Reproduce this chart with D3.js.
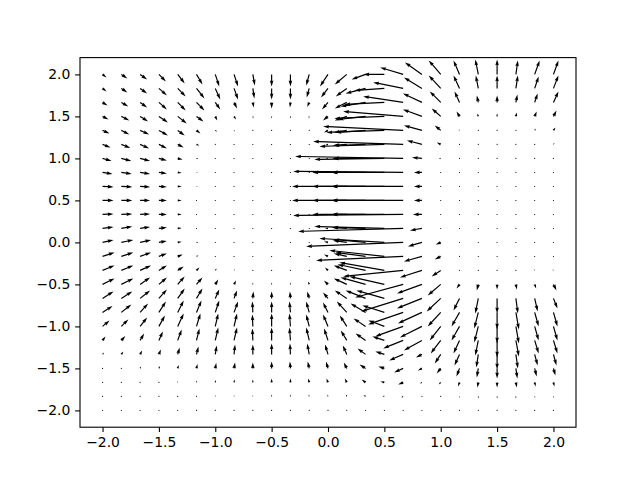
<!DOCTYPE html>
<html><head><meta charset="utf-8">
<script src="https://cdn.jsdelivr.net/npm/d3@7"></script>
<style>body{margin:0;background:#fff} svg{font-family:"DejaVu Sans",sans-serif}</style>
</head><body><svg id="c" width="640" height="480"></svg>
<script>
const xCoords = [-2,-1.8333,-1.6667,-1.5,-1.3333,-1.1667,-1,-0.8333,-0.6667,-0.5,-0.3333,-0.1667,0,0.1667,0.3333,0.5,0.6667,0.8333,1,1.1667,1.3333,1.5,1.6667,1.8333,2];
// rows from top (y = 2) to bottom (y = -2)
const yCoords = [2,1.8333,1.6667,1.5,1.3333,1.1667,1,0.8333,0.6667,0.5,0.3333,0.1667,0,-0.1667,-0.3333,-0.5,-0.6667,-0.8333,-1,-1.1667,-1.3333,-1.5,-1.6667,-1.8333,-2];
const xTicks = [-2,-1.5,-1,-0.5,0,0.5,1,1.5,2];
const yTicks = [-2,-1.5,-1,-0.5,0,0.5,1,1.5,2];
const uRows = [
[0.4,0.6,0.7,0.7,0.7,0.6,0.4,0.4,0.2,0,0,-0.3,-0.8,-1.2,-1.4,-2.1,-2.3,-1.7,-1.2,-0.6,-0.3,0,0.2,0.5,0.5],
[0.4,0.6,0.7,0.8,0.8,0.8,0.5,0.4,0.15,0,0,-0.25,-0.7,-1.1,-2.0,-3.0,-3.0,-1.8,-1.2,-0.6,-0.25,0,0.2,0.4,0.5],
[0.5,0.7,0.7,0.8,0.8,0.8,0.5,0.3,0.1,0,-0.05,-0.2,-0.6,-1.2,-2.5,-4.0,-4.0,-1.9,-1.1,-0.5,-0.15,0,0.15,0.3,0.5],
[0.6,0.8,0.8,0.9,0.9,0.7,0.2,0.2,0.05,0,0,-0.05,-0.5,-1.2,-2.8,-5.0,-6.0,-1.9,-0.9,-0.3,-0.1,0,0.1,0.2,0.3],
[0.7,0.8,0.9,0.9,0.7,0.4,0.2,0.1,0,0,0,0,-0.4,-1.3,-3.0,-5.8,-8.0,-1.8,-0.6,-0.1,0,0,0.05,0.1,0.2],
[0.8,0.9,0.9,0.8,0.6,0.3,0.1,0.05,0.02,0.02,0.02,0.02,-0.3,-1.4,-3.2,-6.5,-9.0,-1.5,-0.4,0,0,0,0,0.05,0.1],
[0.9,1.0,1.0,0.8,0.5,0.2,0.1,0.05,0.02,0.02,0.02,0.02,-0.2,-1.4,-3.3,-7.0,-10.8,-1.0,-0.2,0,0,0,0,0,0],
[1.0,1.05,1.0,0.8,0.4,0.15,0.05,0.03,0.02,0.02,0.02,0.02,-0.2,-1.5,-3.4,-7.2,-11.0,-0.8,-0.1,0,0,0,0,0,0],
[1.1,1.1,1.0,0.8,0.4,0.15,0.05,0.03,0.02,0.02,0.02,0.02,-0.2,-1.5,-3.4,-7.2,-11.1,-0.8,-0.05,0,0,0,0,0,0],
[1.1,1.1,1.0,0.8,0.4,0.1,0.05,0.03,0.02,0.02,0.02,0.02,-0.2,-1.5,-3.4,-7.2,-11.1,-0.8,-0.05,0,0,0,0,0,0],
[1.1,1.1,1.0,0.8,0.4,0.1,0.05,0.03,0.02,0.02,0.02,0.02,-0.2,-1.5,-3.4,-7.2,-11.0,-0.9,-0.05,0,0,0,0,0,0],
[1.1,1.1,1.0,0.8,0.4,0.1,0.05,0.03,0.02,0.02,0.02,0.02,-0.3,-1.5,-3.3,-7.0,-10.5,-1.2,-0.1,0,0,0,0,0,0],
[1.1,1.2,1.1,0.8,0.4,0.2,0.05,0.03,0.02,0.02,0.02,0.02,-0.4,-1.4,-3.2,-6.5,-9.7,-1.4,-0.5,0,0,0,0,0,0],
[1.2,1.2,1.1,0.8,0.5,0.2,0.05,0.03,0.02,0.02,0.02,0.02,-0.4,-1.3,-3.0,-5.5,-8.7,-1.8,-0.6,0,0,0,0,0,0],
[1.2,1.2,1.1,0.8,0.6,0.3,0.15,0.05,0,0,0,0,-0.3,-1.3,-2.8,-4.5,-6.0,-2.2,-0.9,0.05,0,0,0,-0.1,-0.1],
[1.2,1.2,1.0,0.8,0.7,0.6,0.3,0.2,0,0,0,-0.1,-0.4,-1.3,-2.5,-3.5,-4.8,-2.5,-1.3,-0.3,-0.15,0,0.1,0.15,0.3],
[1.1,1.1,1.0,0.8,0.7,0.6,0.4,0.3,0.05,0,-0.05,-0.2,-0.5,-1.2,-2.0,-2.8,-4.2,-2.5,-1.4,-0.6,-0.3,0,0.2,0.3,0.4],
[1.0,1.0,0.8,0.7,0.6,0.5,0.4,0.4,-0.05,0,-0.1,-0.3,-0.5,-1.0,-1.5,-2.2,-3.5,-2.4,-1.3,-0.8,-0.4,0,0.3,0.4,0.4],
[0.7,0.7,0.7,0.6,0.6,0.4,0.3,0.3,-0.05,0,-0.1,-0.3,-0.5,-0.7,-1.2,-1.6,-2.8,-2.2,-1.1,-0.8,-0.4,0,0.3,0.4,0.4],
[0.3,0.4,0.4,0.4,0.4,0.3,0.3,0.3,-0.05,0,-0.1,-0.3,-0.4,-0.6,-1.0,-1.2,-2.0,-1.8,-1.0,-0.6,-0.3,0,0.3,0.4,0.4],
[0.15,0.2,0.2,0.2,0.2,0.2,0.15,0.1,0,0,-0.05,-0.2,-0.3,-0.4,-0.8,-0.9,-1.4,-0.6,-0.6,-0.5,-0.2,0,0.2,0.3,0.3],
[0.05,0.05,0.1,0.1,0.1,0.1,0.1,0.1,0,0,-0.05,-0.15,-0.2,-0.3,-0.6,-0.6,-0.9,-0.4,-0.4,-0.3,-0.15,0,0.15,0.2,0.2],
[0,0,0,0,0,0.05,0.05,0.05,0,0,0,-0.1,-0.15,-0.2,-0.4,-0.4,-0.5,-0.2,-0.2,-0.15,-0.1,0,0.1,0.1,0.1],
[0,0,0,0,0,0,0,0,0,0,0,-0.05,-0.05,-0.1,-0.2,-0.2,-0.2,-0.1,-0.1,0,0,0,0,0.05,0.05],
[0,0,0,0,0,0,0,0,0,0,0,0,0,0,0,0,0,0,0,0,0,0,0,0,0]
];
const vRows = [
[-0.3,-0.4,-0.5,-0.7,-0.9,-1.0,-1.2,-1.2,-1.1,-1.2,-1.2,-1.1,-1.2,-1.0,-0.5,0,0.7,1.2,1.4,1.4,1.5,1.5,1.4,1.4,1.4],
[-0.3,-0.4,-0.5,-0.7,-0.8,-1.0,-1.1,-1.1,-1.0,-1.1,-1.1,-0.9,-0.9,-0.8,-0.5,-0.2,0.6,1.1,1.3,1.3,1.3,1.3,1.3,1.2,1.3],
[-0.3,-0.4,-0.5,-0.7,-0.8,-0.8,-0.7,-0.6,-0.5,-0.6,-0.5,-0.45,-0.7,-0.6,-0.4,-0.2,0.6,0.9,1.1,1.1,0.7,0.7,0.8,0.9,1.1],
[-0.3,-0.4,-0.5,-0.6,-0.7,-0.5,-0.4,-0.3,-0.2,-0.2,-0.2,-0.2,-0.4,-0.4,-0.3,-0.2,0.5,0.7,0.8,0.5,0.3,0.3,0.4,0.5,0.6],
[-0.3,-0.4,-0.4,-0.5,-0.5,-0.3,-0.1,-0.1,-0.05,-0.03,-0.03,-0.03,-0.2,-0.2,-0.2,-0.2,0.4,0.5,0.5,0.1,0.1,0.1,0.1,0.2,0.3],
[-0.3,-0.35,-0.4,-0.4,-0.3,-0.1,-0.05,0,0,0,0,0,-0.1,-0.1,-0.1,-0.2,0.3,0.4,0.2,0.03,0.03,0.03,0.03,0.1,0.15],
[-0.25,-0.25,-0.25,-0.2,-0.1,-0.05,0,0,0,0,0,0,0,0,0,-0.1,0.2,0.1,0,0.02,0.02,0.02,0.02,0.02,0.02],
[-0.15,-0.15,-0.15,-0.1,-0.05,0,0,0,0,0,0,0,0,0,0,0,0.1,0,0,0,0,0,0,0,0],
[-0.05,-0.05,-0.05,-0.05,0,0,0,0,0,0,0,0,0,0,0,0,0,0,0,0,0,0,0,0,0],
[0,0,0,0,0,0,0,0,0,0,0,0,0,0,0,0,0,0,0,0,0,0,0,0,0],
[0.05,0.05,0.05,0,0,0,0,0,0,0,0,0,0,0,0,0,-0.1,0,0,0,0,0,0,0,0],
[0.15,0.2,0.15,0.1,0.05,0,0,0,0,0,0,0,0,0.1,0.1,0.2,-0.3,-0.2,0,0,0,0,0,0,0],
[0.25,0.25,0.25,0.15,0.07,0,0,0,0,0,0,0,0.1,0.2,0.3,0.4,-0.4,-0.4,-0.2,0,0,0,0,0,0],
[0.4,0.4,0.4,0.3,0.2,0.1,0,0,0,0,0,0,0.2,0.3,0.4,0.6,-0.4,-0.5,-0.3,0.03,0,0,0,0,0],
[0.5,0.5,0.5,0.5,0.4,0.3,0.2,0.15,0.05,0.03,0.03,0.1,0.3,0.5,0.6,0.8,-0.6,-0.7,-0.6,0.05,-0.1,-0.1,-0.1,0.1,0.1],
[0.6,0.6,0.7,0.7,0.8,0.7,0.5,0.4,0.2,0.2,0.2,0.3,0.4,0.6,0.7,0.8,-1.3,-0.9,-1.1,-0.4,-0.6,-0.5,-0.5,-0.4,-0.6],
[0.7,0.7,0.8,0.9,1.0,1.0,0.9,0.8,0.7,0.7,0.7,0.7,0.6,0.8,0.8,0.8,-1.3,-1.0,-1.3,-1.2,-1.5,-1.5,-1.5,-1.3,-1.0],
[0.65,0.8,0.9,1.1,1.2,1.2,1.2,1.1,1.1,1.1,1.1,1.1,1.0,1.1,0.9,0.7,-1.2,-1.1,-1.4,-1.4,-1.6,-1.7,-1.7,-1.4,-1.4],
[0.6,0.7,0.9,1.1,1.3,1.3,1.3,1.3,1.2,1.3,1.3,1.2,1.2,1.1,0.8,0.6,-1.0,-1.1,-1.4,-1.4,-1.6,-1.7,-1.7,-1.4,-1.4],
[0.4,0.45,0.7,0.9,1.1,1.2,1.3,1.3,1.2,1.3,1.3,1.3,1.2,1.0,0.7,0.4,-0.8,-1.0,-1.3,-1.3,-1.5,-1.7,-1.6,-1.3,-1.3],
[0.2,0.3,0.4,0.5,0.7,0.8,0.9,1.0,1.0,1.1,1.1,1.1,1.0,0.9,0.6,0.3,-0.6,-0.3,-0.9,-1.1,-1.3,-1.5,-1.4,-1.1,-1.1],
[0.1,0.1,0.2,0.25,0.35,0.45,0.55,0.6,0.6,0.7,0.7,0.7,0.7,0.6,0.4,0.2,-0.4,-0.2,-0.5,-0.8,-0.9,-1.0,-1.0,-0.8,-0.7],
[0.05,0.05,0.07,0.1,0.15,0.2,0.25,0.3,0.3,0.4,0.4,0.4,0.4,0.4,0.3,0.1,-0.2,-0.1,-0.2,-0.4,-0.5,-0.5,-0.5,-0.4,-0.4],
[0.02,0.02,0.03,0.04,0.05,0.1,0.15,0.15,0.15,0.2,0.2,0.2,0.2,0.2,0.15,0.05,-0.1,0,-0.05,-0.15,-0.2,-0.2,-0.2,-0.15,-0.15],
[0,0,0,0,0,0.02,0.03,0.05,0.05,0.05,0.05,0.05,0.03,0.05,0,0,0,0,0,-0.03,-0.05,-0.05,-0.05,-0.05,-0.05]
];

const L = 80, R = 576, T = 57.6, B = 427.2;
const svg = d3.select('#c');
const x = d3.scaleLinear().domain([-2.2, 2.2]).range([L, R]);
const y = d3.scaleLinear().domain([-2.2, 2.2]).range([B, T]);

svg.append('defs').append('clipPath').attr('id', 'clip')
  .append('rect').attr('x', L).attr('y', T).attr('width', R - L).attr('height', B - T);

// quiver geometry (matplotlib-like)
const pxPerUnit = 10;
const w = 0.06 * (R - L) / 25; // shaft width px
const hl = 5, hal = 4.5, hw = 3, minsh = 5, minlen = 1;

const arrows = [];
yCoords.forEach((yy, r) => {
  xCoords.forEach((xx, c) => {
    arrows.push({x: xx, y: yy, u: uRows[r][c], v: vRows[r][c]});
  });
});

function arrowPath(d) {
  const tx = x(d.x), ty = y(d.y);
  const lenPx = Math.hypot(d.u, d.v) * pxPerUnit;
  const Lw = lenPx / w;
  const ang = Math.atan2(-d.v, d.u);
  let pts;
  if (Lw < minlen) {
    pts = d3.range(6).map(k => [Math.cos(k * Math.PI / 3) * minlen * 0.5, Math.sin(k * Math.PI / 3) * minlen * 0.5]);
  } else if (Lw < minsh) {
    const s = Lw / minsh;
    const X0 = [0, minsh - hal, minsh - hl, minsh, minsh - hl, minsh - hal, 0];
    const Y0 = [0.5, 0.5, hw / 2, 0, -hw / 2, -0.5, -0.5];
    pts = X0.map((xv, i) => [xv * s, Y0[i] * s]);
  } else {
    const X = [0, Lw - hal, Lw - hl, Lw, Lw - hl, Lw - hal, 0];
    const Y = [0.5, 0.5, hw / 2, 0, -hw / 2, -0.5, -0.5];
    pts = X.map((xv, i) => [xv, Y[i]]);
  }
  const ca = Math.cos(ang), sa = Math.sin(ang);
  return 'M' + pts.map(([a, b]) => {
    const px = a * w, py = b * w;
    return [(tx + px * ca - py * sa).toFixed(2), (ty + px * sa + py * ca).toFixed(2)].join(',');
  }).join('L') + 'Z';
}

svg.append('g').attr('clip-path', 'url(#clip)')
  .selectAll('path').data(arrows).join('path')
  .attr('d', arrowPath).attr('fill', '#000');

// axes
const xAxis = d3.axisBottom(x).tickValues(xTicks).tickFormat(d3.format('.1f')).tickSizeOuter(0).tickSize(4.86).tickPadding(4.86);
const yAxis = d3.axisLeft(y).tickValues(yTicks).tickFormat(d3.format('.1f')).tickSizeOuter(0).tickSize(4.86).tickPadding(4.86);
const gx = svg.append('g').attr('transform', `translate(0,${B})`).call(xAxis);
const gy = svg.append('g').attr('transform', `translate(${L},0)`).call(yAxis);
[gx, gy].forEach(g => {
  g.select('.domain').remove();
  g.selectAll('.tick line').attr('stroke', '#000').attr('stroke-width', 1.1);
  g.selectAll('.tick text').attr('fill', '#000').style('font-size', '13.9px').style('font-family', 'DejaVu Sans');
});
svg.append('rect').attr('x', L).attr('y', T).attr('width', R - L).attr('height', B - T)
  .attr('fill', 'none').attr('stroke', '#000').attr('stroke-width', 1.1);
</script></body></html>
